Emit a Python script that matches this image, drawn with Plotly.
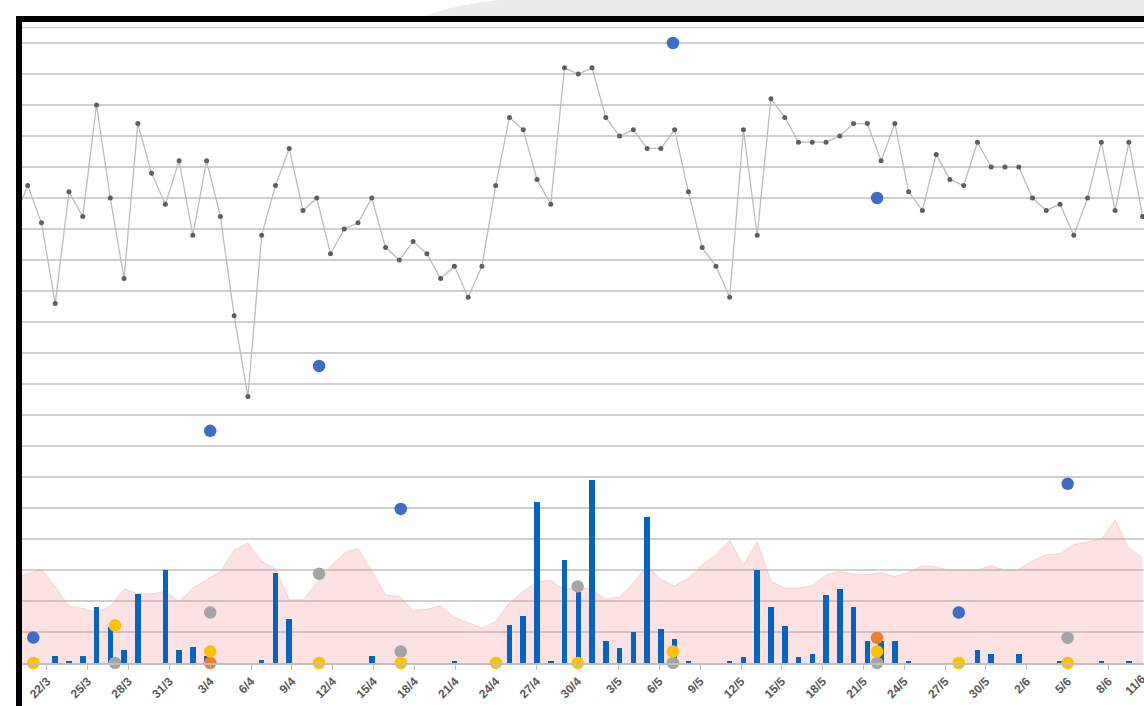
import pandas as pd
import plotly.graph_objects as go

# ---------------- data ----------------
tick_labels = ["22/3", "25/3", "28/3", "31/3", "3/4", "6/4", "9/4", "12/4", "15/4", "18/4",
               "21/4", "24/4", "27/4", "30/4", "3/5", "6/5", "9/5", "12/5", "15/5", "18/5",
               "21/5", "24/5", "27/5", "30/5", "2/6", "5/6", "8/6", "11/6"]
tick_dates = pd.date_range("2020-03-22", periods=len(tick_labels), freq="3D")

# daily series (20/3 .. 10/6)
daily_dates = pd.date_range("2020-03-20", periods=83, freq="D")

line_values = [14.3,
               15.4, 14.2, 11.6, 15.2, 14.4, 18.0, 15.0, 12.4, 17.4, 15.8,
               14.8, 16.2, 13.8, 16.2, 14.4, 11.2, 8.6, 13.8, 15.4, 16.6,
               14.6, 15.0, 13.2, 14.0, 14.2, 15.0, 13.4, 13.0, 13.6, 13.2,
               12.4, 12.8, 11.8, 12.8, 15.4, 17.6, 17.2, 15.6, 14.8, 19.2,
               19.0, 19.2, 17.6, 17.0, 17.2, 16.6, 16.6, 17.2, 15.2, 13.4,
               12.8, 11.8, 17.2, 13.8, 18.2, 17.6, 16.8, 16.8, 16.8, 17.0,
               17.4, 17.4, 16.2, 17.4, 15.2, 14.6, 16.4, 15.6, 15.4, 16.8,
               16.0, 16.0, 16.0, 15.0, 14.6, 14.8, 13.8, 15.0, 16.8, 14.6,
               16.8, 14.4]

area_values = [2.75,
               2.87, 3.03, 2.47, 1.83, 1.77, 1.63, 1.83, 2.39, 2.24, 2.23,
               2.31, 1.98, 2.42, 2.69, 2.95, 3.65, 3.87, 3.28, 3.03, 2.04,
               2.04, 2.58, 3.12, 3.55, 3.71, 2.95, 2.20, 2.15, 1.70, 1.74,
               1.85, 1.48, 1.31, 1.13, 1.34, 1.94, 2.31, 2.63, 2.66, 2.36,
               2.47, 2.36, 2.06, 2.13, 2.58, 3.14, 2.69, 2.49, 2.74, 3.17,
               3.49, 3.95, 3.17, 3.92, 2.64, 2.42, 2.42, 2.49, 2.85, 2.95,
               2.88, 2.85, 2.92, 2.79, 2.92, 3.14, 3.10, 2.99, 3.01, 3.01,
               3.14, 2.99, 3.03, 3.30, 3.49, 3.53, 3.82, 3.92, 4.00, 4.62,
               3.71, 3.39]

bar_values = [0,
              0, 0, 0.21, 0.08, 0.21, 1.81, 1.15, 0.43, 2.23, 0,
              2.99, 0.43, 0.52, 0.21, 0, 0, 0, 0.10, 2.90, 1.42,
              0, 0, 0, 0, 0, 0.21, 0, 0, 0, 0,
              0, 0.08, 0, 0, 0, 1.21, 1.53, 5.20, 0.08, 3.31,
              2.30, 5.90, 0.70, 0.50, 1.00, 4.70, 1.11, 0.79, 0.08, 0,
              0, 0.08, 0.20, 3.01, 1.81, 1.20, 0.19, 0.30, 2.20, 2.40,
              1.81, 0.70, 0.70, 0.70, 0.08, 0, 0, 0, 0, 0.41,
              0.30, 0, 0.30, 0, 0, 0.08, 0, 0, 0.08, 0,
              0.08, 0]

blue_dates = ["2020-03-21", "2020-04-03", "2020-04-11", "2020-04-17",
              "2020-05-07", "2020-05-22", "2020-05-28", "2020-06-05"]
blue_values = [0.82, 7.49, 9.58, 4.97, 20.0, 15.0, 1.63, 5.78]

orange_dates = ["2020-04-03", "2020-05-22"]
orange_values = [0.0, 0.81]

gray_dates = ["2020-03-27", "2020-04-03", "2020-04-11", "2020-04-17",
              "2020-04-30", "2020-05-07", "2020-05-22", "2020-06-05"]
gray_values = [0.0, 1.63, 2.88, 0.37, 2.47, 0.0, 0.0, 0.81]

yellow_dates = ["2020-03-21", "2020-03-27", "2020-04-03", "2020-04-11", "2020-04-17",
                "2020-04-24", "2020-04-30", "2020-05-07", "2020-05-22", "2020-05-28",
                "2020-06-05"]
yellow_values = [0.0, 1.21, 0.37, 0.0, 0.0, 0.0, 0.0, 0.37, 0.37, 0.0, 0.0]

# ---------------- layout constants ----------------
W, H = 1144, 706
ML, MR, MT, MB = 22, 0, 22, 43
PW, PH = W - ML - MR, H - MT - MB
GRID_PX = 31.0
DAY = pd.Timedelta(days=1)
base = pd.Timestamp("2020-03-21")

date_range = [base + DAY * (-0.83), base + DAY * 81.61]     # scatter / tick axis
cat_range = [base + DAY * (-0.414), base + DAY * 81.10]     # daily series axis
y_max = PH / GRID_PX


def px_x(px):
    return (px - ML) / PW


def px_y(py):
    return (H - MB - py) / PH


fig = go.Figure()

# bottom layer: area
fig.add_trace(go.Scatter(
    x=daily_dates, y=area_values, xaxis="x", yaxis="y",
    mode="lines", fill="tozeroy",
    line=dict(color="rgba(236,160,160,0.35)", width=1),
    fillcolor="rgba(245,140,140,0.25)", hoverinfo="skip"))

# middle layer: bars and line
fig.add_trace(go.Bar(
    x=daily_dates, y=bar_values, xaxis="x2", yaxis="y",
    marker=dict(color="#0563C1", line=dict(width=0)),
    width=0.4 * 86400000))

fig.add_trace(go.Scatter(
    x=daily_dates, y=line_values, xaxis="x2", yaxis="y",
    mode="lines+markers",
    line=dict(color="#bdbdbd", width=1.3),
    marker=dict(color="#5f5f5f", size=5)))

# top layer: dots
for dates, vals, col in [(blue_dates, blue_values, "#3F6DC6"),
                         (orange_dates, orange_values, "#ED7D31"),
                         (gray_dates, gray_values, "#A5A5A5"),
                         (yellow_dates, yellow_values, "#FFC000")]:
    fig.add_trace(go.Scatter(
        x=dates, y=vals, xaxis="x3", yaxis="y", mode="markers",
        marker=dict(color=col, size=12.5, line=dict(width=0)),
        cliponaxis=False))

shapes = [
    dict(type="line", xref="paper", yref="y", x0=0, x1=1, y0=20.5, y1=20.5,
         line=dict(color="#cfcfcf", width=1.5), layer="below"),
    dict(type="path", xref="paper", yref="paper",
         path=(f"M {px_x(426)},{px_y(16)} "
               f"C {px_x(440)},{px_y(10)} {px_x(462)},{px_y(4)} {px_x(500)},{px_y(0)} "
               f"L {px_x(1144)},{px_y(0)} L {px_x(1144)},{px_y(16)} Z"),
         fillcolor="#ececec", line=dict(width=0), layer="above"),
    dict(type="rect", xref="paper", yref="paper",
         x0=px_x(16), x1=px_x(22), y0=px_y(706), y1=px_y(16),
         fillcolor="black", line=dict(width=0), layer="above"),
    dict(type="rect", xref="paper", yref="paper",
         x0=px_x(16), x1=px_x(1144), y0=px_y(22), y1=px_y(16),
         fillcolor="black", line=dict(width=0), layer="above"),
]

tick_font = dict(family="Liberation Sans, Arial, sans-serif", size=12, color="#595959", weight="bold")

last_frac = (tick_dates[-1] - date_range[0]) / (date_range[1] - date_range[0])

fig.update_layout(
    width=W, height=H,
    margin=dict(l=ML, r=MR, t=MT, b=MB, pad=0),
    paper_bgcolor="white", plot_bgcolor="white",
    showlegend=False, bargap=0,
    xaxis=dict(type="date", range=cat_range, visible=False),
    xaxis2=dict(type="date", range=cat_range, overlaying="x", visible=False),
    xaxis3=dict(type="date", range=date_range, overlaying="x",
                tickvals=list(tick_dates), ticktext=tick_labels,
                tickangle=-45, tickfont=tick_font, ticks="outside", ticklen=5,
                tickcolor="#bfbfbf", tickwidth=1.3,
                showline=True, linecolor="#bfbfbf", linewidth=1.5,
                showgrid=False, zeroline=False, side="bottom", anchor="y"),
    yaxis=dict(range=[0, y_max], dtick=1, tick0=0, showticklabels=False,
               showgrid=True, gridcolor="#cfcfcf", gridwidth=1.5,
               zeroline=False, showline=False, ticks=""),
    shapes=shapes,
    annotations=[dict(xref="paper", yref="paper", x=last_frac, y=0,
                      text=tick_labels[-1], showarrow=False, textangle=-45,
                      xanchor="right", yanchor="top", font=tick_font,
                      xshift=2, yshift=-6)],
)

fig.write_html("out.html", config={"displayModeBar": False},
               post_script="document.body.style.margin='0';")
